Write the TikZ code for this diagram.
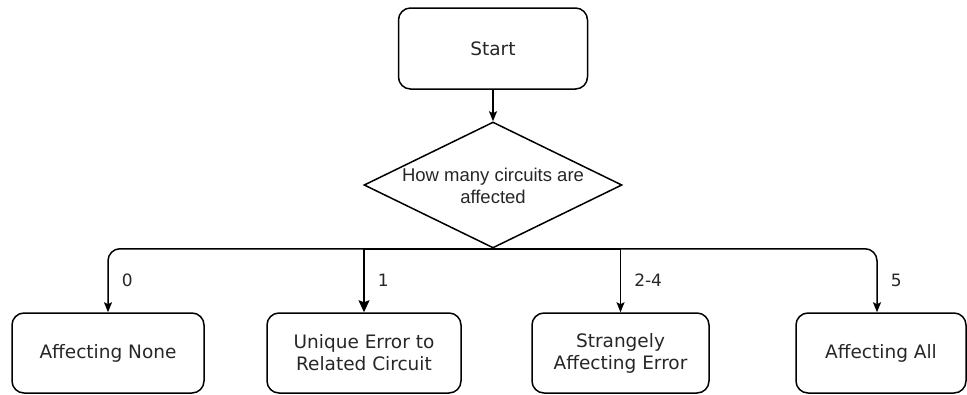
\documentclass[tikz,border=0pt]{standalone}
\usepackage{fontspec}
\setmainfont{DejaVu Sans}
\newfontfamily\arialfont{Liberation Sans}
\usetikzlibrary{shapes.geometric,arrows.meta}

\begin{document}
\begin{tikzpicture}[x=1pt,y=-1pt,
  box/.style={draw, rounded corners=12pt, line width=1.5pt,
    font=\fontsize{18.5}{22}\selectfont, text=black!85, align=center, inner sep=0pt},
  decision/.style={diamond, draw, line width=1.5pt, inner sep=0pt,
    minimum width=258pt, minimum height=126pt},
  question/.style={font=\arialfont\fontsize{18.5}{22}\selectfont, text=black!85,
    align=center, inner sep=0pt},
  arr/.style={line width=1.5pt, -{Stealth[length=10pt,width=8pt,inset=2pt]}},
  bigarr/.style={line width=1.5pt, -{Stealth[length=12pt,width=11pt,inset=2pt]}},
  lbl/.style={anchor=west, xshift=11pt, inner sep=2pt,
    font=\fontsize{17}{17}\selectfont, text=black!85}]
\useasboundingbox (0,0) rectangle (967,394);

% process steps
\node[box, minimum width=189pt, minimum height=81pt] (start) at (493,48.5) {Start};
\node[decision] (d) at (493,185) {};
\node[question] (dq) at (493,186) {How many circuits are\\affected};

\node[box, minimum width=192pt, minimum height=80pt] (none)    at (108,353)   {Affecting None};
\node[box, minimum width=194pt, minimum height=80pt] (unique)  at (364,353)   {Unique Error to\\Related Circuit};
\node[box, minimum width=177pt, minimum height=80pt] (strange) at (620.5,353) {Strangely\\Affecting Error};
\node[box, minimum width=170pt, minimum height=80pt] (all)     at (881,353)   {Affecting All};

% connectors
\draw[arr] (start.south) -- (d.north);
\draw[arr, rounded corners=12pt] (d.south) -| node[lbl, pos=0.75] {0} (none.north);
\draw[bigarr] (d.south) -| node[lbl, pos=0.75] {1} (unique.north);
\draw[arr] (d.south) -| node[lbl, pos=0.75] {2-4} (strange.north);
\draw[arr, rounded corners=12pt] (d.south) -| node[lbl, pos=0.75] {5} ([xshift=-4pt]all.north);
\end{tikzpicture}
\end{document}
